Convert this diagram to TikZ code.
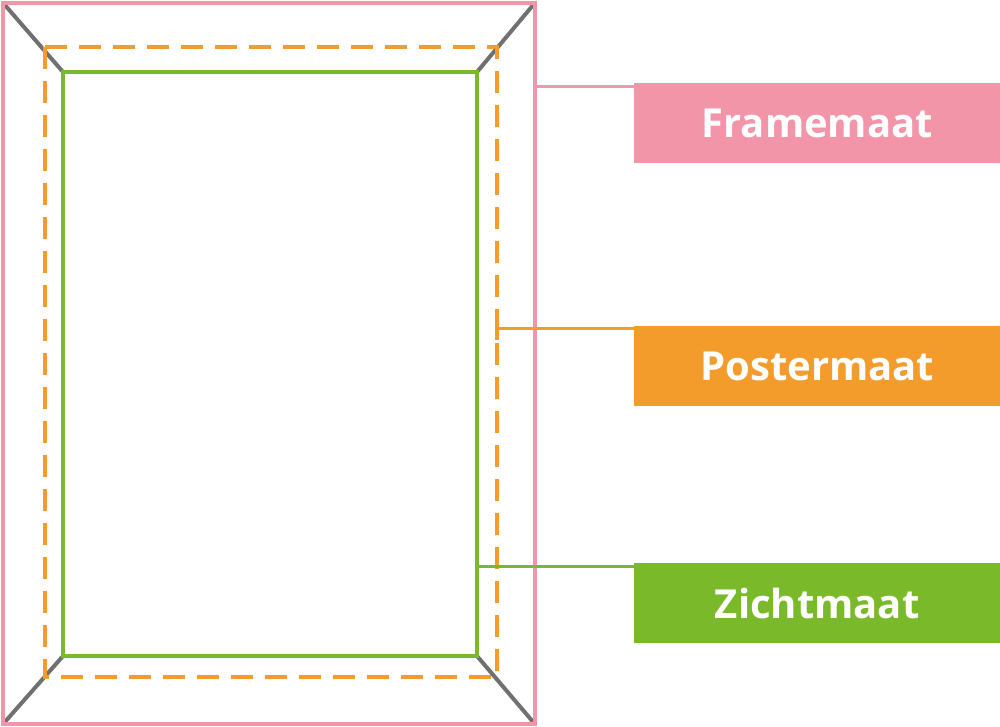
\documentclass[tikz,border=0pt]{standalone}
\usepackage{fontspec}
\setsansfont{Open Sans}
\definecolor{pinkc}{HTML}{F295A9}
\definecolor{orangec}{HTML}{F39C2C}
\definecolor{greenc}{HTML}{7AB929}
\definecolor{grayc}{HTML}{707070}
\begin{document}
\begin{tikzpicture}[x=1pt,y=-1pt,
  lab/.style={minimum width=366pt,minimum height=80pt,inner sep=0pt,text=white,font=\sffamily\bfseries\fontsize{40}{48}\selectfont},
  ln/.style={line width=4pt}]
\useasboundingbox (0,0) rectangle (1000,727);
\draw[grayc,ln] (4,4) -- (63,72);
\draw[grayc,ln] (534,4) -- (477,72);
\draw[grayc,ln] (4,723) -- (63,656);
\draw[grayc,ln] (534,723) -- (477,656);
\draw[pinkc,ln] (3,3) rectangle (535,724);
\draw[orangec,ln,dash pattern=on 22pt off 12pt] (45,47) rectangle (497,677);
\draw[greenc,ln] (63,72) rectangle (477,656);
\node[lab,fill=pinkc,anchor=north west] (f) at (634,83) {Framemaat};
\node[lab,fill=orangec,anchor=north west] (p) at (634,326) {Postermaat};
\node[lab,fill=greenc,anchor=north west] (z) at (634,563) {Zichtmaat};
\coordinate (fa) at (536,87);
\coordinate (pa) at (497,328);
\coordinate (za) at (477,566);
\draw[pinkc,line width=3pt] (fa) -- (fa -| f.west);
\draw[orangec,line width=3pt] (pa) -- (pa -| p.west);
\draw[orangec,ln] (497,318) -- (497,340);
\draw[greenc,line width=3pt] (za) -- (za -| z.west);
\end{tikzpicture}
\end{document}
